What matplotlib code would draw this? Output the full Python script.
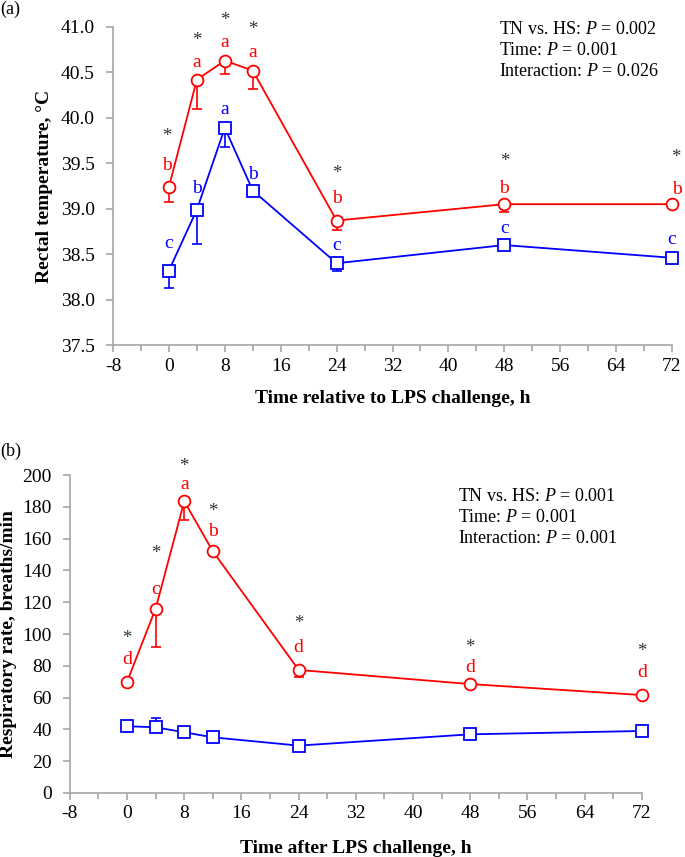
import matplotlib
matplotlib.use("Agg")
import matplotlib.pyplot as plt
from matplotlib.ticker import MultipleLocator, FormatStrFormatter

plt.rcParams['font.family'] = ['Liberation Serif', 'DejaVu Serif']
plt.rcParams['mathtext.fontset'] = 'custom'
plt.rcParams['mathtext.rm'] = 'Liberation Serif'
plt.rcParams['mathtext.it'] = 'Liberation Serif:italic'
plt.rcParams['axes.unicode_minus'] = False

# time points (h)
hours = [0, 4, 8, 12, 24, 48, 72]

# (a) rectal temperature
rt_hs = [39.24, 40.42, 40.63, 40.52, 38.87, 39.05, 39.05]
rt_hs_err = [0.17, 0.32, 0.15, 0.20, 0.10, 0.09, 0.02]
rt_tn = [38.32, 38.99, 39.89, 39.20, 38.40, 38.60, 38.46]
rt_tn_err = [0.19, 0.38, 0.21, 0.0, 0.09, 0.0, 0.0]
rt_hs_letters = ["b", "a", "a", "a", "b", "b", "b"]
rt_tn_letters = ["c", "b", "a", "b", "c", "c", "c"]
rt_stats = ["TN vs. HS: $P$ = 0.002", "Time: $P$ = 0.001", "Interaction: $P$ = 0.026"]

# (b) respiratory rate
rr_hs = [70, 116, 183.5, 152, 77.4, 68.5, 61.6]
rr_hs_err = [0, 24, 12, 2, 4.5, 0, 0]
rr_tn = [42, 41.3, 38.2, 35, 29.8, 36.9, 39]
rr_tn_err = [0, 6, 0, 0, 0, 1.5, 0]
rr_hs_letters = ["d", "c", "a", "b", "d", "d", "d"]
rr_stats = ["TN vs. HS: $P$ = 0.001", "Time: $P$ = 0.001", "Interaction: $P$ = 0.001"]

RED = "#ff0000"
BLUE = "#0000ff"
SPINE = "#a6a6a6"

fig = plt.figure(figsize=(6.85, 8.57), dpi=100)
ax1 = fig.add_axes([0.165, 0.5974, 0.816, 0.3711])
ax2 = fig.add_axes([0.102, 0.0747, 0.835, 0.3710])


def style_axes(ax):
    for s in ["top", "right"]:
        ax.spines[s].set_visible(False)
    for s in ["left", "bottom"]:
        ax.spines[s].set_color(SPINE)
        ax.spines[s].set_linewidth(1.2)
    ax.set_xlim(-8, 72)
    ax.xaxis.set_major_locator(MultipleLocator(8))
    ax.xaxis.set_minor_locator(MultipleLocator(4))
    ax.tick_params(axis="both", which="both", direction="out", color=SPINE,
                   width=1.2, labelsize=14)
    ax.tick_params(axis="x", which="major", length=5, pad=4)
    ax.tick_params(axis="x", which="minor", length=4)
    ax.tick_params(axis="y", length=5, pad=8)


def draw_series(ax, y, err, color, marker, down=True):
    lo = err if down else [0] * len(err)
    hi = [0] * len(err) if down else err
    ax.errorbar(hours, y, yerr=[lo, hi], fmt="none", ecolor=color,
                elinewidth=1.2, capsize=3.5, capthick=1.2, zorder=2)
    ax.plot(hours, y, color=color, lw=1.3, marker=marker, ms=8.5,
            mfc="white", mec=color, mew=1.3, zorder=3, clip_on=False)


def letters(ax, y, labels, color, offsets, dx=None):
    for i, (x, v, t) in enumerate(zip(hours, y, labels)):
        ddx = dx[i] if dx else 0
        ax.annotate(t, (x, v), xytext=(ddx, offsets[i]), textcoords="offset pixels",
                    ha="center", va="center", fontsize=14, color=color)


def stars(ax, y, offsets, dx=None):
    for i, (x, v) in enumerate(zip(hours, y)):
        ddx = dx[i] if dx else 0
        ax.annotate("*", (x, v), xytext=(ddx, offsets[i]), textcoords="offset pixels",
                    ha="center", va="center", fontsize=13.5, color="#333333")


# ---- panel (a)
style_axes(ax1)
ax1.set_ylim(37.5, 41.0)
ax1.yaxis.set_major_locator(MultipleLocator(0.5))
ax1.yaxis.set_major_formatter(FormatStrFormatter("%.1f"))
draw_series(ax1, rt_tn, rt_tn_err, BLUE, "s")
draw_series(ax1, rt_hs, rt_hs_err, RED, "o")
letters(ax1, rt_hs, rt_hs_letters, RED, [21, 17, 18, 18, 22, 16, 15],
        dx=[-2, 0, 0, 0, 0, 0, 5])
letters(ax1, rt_tn, rt_tn_letters, BLUE, [27, 21, 18, 16, 18, 17, 18])
stars(ax1, rt_hs, [50, 39, 40, 41, 47, 43, 47], dx=[-2, 0, 0, 0, 0, 0, 4])
ax1.set_ylabel("Rectal temperature, °C", fontsize=14, fontweight="bold", labelpad=6)
ax1.set_xlabel("Time relative to LPS challenge, h", fontsize=14, fontweight="bold",
               labelpad=11)
ax1.text(0.69, 1.02, "\n".join(rt_stats), transform=ax1.transAxes, ha="left",
         va="top", fontsize=13, linespacing=1.33)
fig.text(0.0, 0.999, "(a)", ha="left", va="top", fontsize=13)

# ---- panel (b)
style_axes(ax2)
ax2.set_ylim(0, 200)
ax2.yaxis.set_major_locator(MultipleLocator(20))
draw_series(ax2, rr_tn, rr_tn_err, BLUE, "s", down=False)
draw_series(ax2, rr_hs, rr_hs_err, RED, "o")
letters(ax2, rr_hs, rr_hs_letters, RED, [22, 19, 17, 20, 22, 17, 23])
stars(ax2, rr_hs, [43, 55, 35, 40, 46, 37, 44])
ax2.set_ylabel("Respiratory rate, breaths/min", fontsize=14, fontweight="bold",
               labelpad=4)
ax2.set_xlabel("Time after LPS challenge, h", fontsize=14, fontweight="bold",
               labelpad=12.5)
ax2.text(0.678, 0.96, "\n".join(rr_stats), transform=ax2.transAxes, ha="left",
         va="top", fontsize=13, linespacing=1.33)
fig.text(0.0, 0.483, "(b)", ha="left", va="top", fontsize=13)

fig.savefig("out.png", dpi=100)
